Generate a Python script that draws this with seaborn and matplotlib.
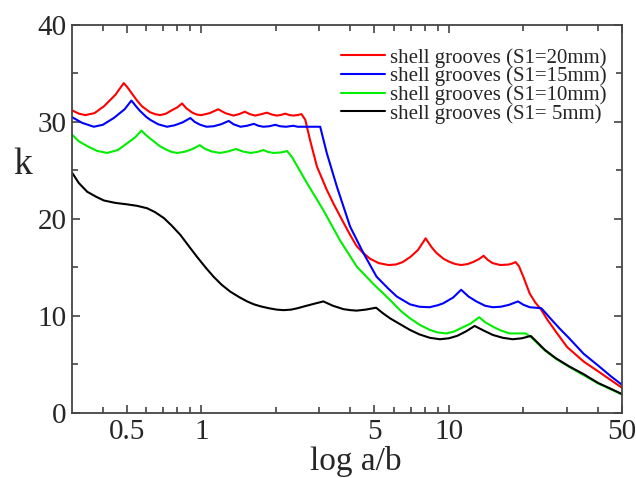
import numpy as np
import pandas as pd
import matplotlib
matplotlib.use("Agg")
import matplotlib.pyplot as plt
import matplotlib.ticker as mticker
import seaborn as sns

# values
labels = ["shell grooves (S1=20mm)", "shell grooves (S1=15mm)",
          "shell grooves (S1=10mm)", "shell grooves (S1= 5mm)"]
colors = ["#ff0000", "#0000ff", "#00ee00", "#000000"]

x_20 = [0.30, 0.32, 0.34, 0.37, 0.404, 0.45, 0.486, 0.505, 0.525, 0.55, 0.576, 0.62, 0.65,
        0.683, 0.72, 0.76, 0.80, 0.836, 0.87, 0.92, 0.96, 1.0, 1.08, 1.17, 1.25, 1.35,
        1.42, 1.5, 1.57, 1.65, 1.75, 1.84, 1.93, 2.02, 2.1, 2.18, 2.27, 2.36, 2.44, 2.54,
        2.63, 2.75, 2.93, 3.21, 3.43, 3.7, 4.0, 4.24, 4.5, 4.8, 5.2, 5.69, 6.1, 6.5, 7.0,
        7.5, 8.05, 8.5, 8.9, 9.5, 10.0, 10.6, 11.2, 11.9, 12.5, 13.2, 13.8, 14.4, 15.0,
        16.1, 17.4, 18.0, 18.6, 19.2, 20.0, 21.2, 22.3, 23.5, 25.0, 27.0, 30.0, 35.0,
        40.0, 45.0, 50.0]
k_20 = [31.2, 30.85, 30.7, 30.9, 31.6, 32.8, 34.0, 33.5, 32.9, 32.2, 31.6, 31.0, 30.8,
        30.7, 30.85, 31.2, 31.5, 31.9, 31.4, 30.95, 30.75, 30.7, 30.9, 31.3, 30.9, 30.65,
        30.8, 31.05, 30.8, 30.65, 30.8, 30.95, 30.75, 30.65, 30.72, 30.85, 30.7, 30.65, 30.7, 30.8,
        30.2, 28.1, 25.4, 23.0, 21.5, 19.9, 18.3, 17.2, 16.5, 15.9, 15.45, 15.25, 15.3, 15.55, 16.1,
        16.8, 18.0, 17.1, 16.5, 15.9, 15.6, 15.35, 15.25, 15.35, 15.55, 15.85, 16.2, 15.75, 15.45,
        15.25, 15.3, 15.4, 15.55, 15.1, 14.0, 12.3, 11.4, 10.7, 9.6, 8.4, 6.8, 5.3,
        4.3, 3.4, 2.6]

x_15 = [0.30, 0.33, 0.368, 0.40, 0.443, 0.49, 0.522, 0.545, 0.567, 0.60, 0.623, 0.67,
        0.727, 0.78, 0.84, 0.903, 0.94, 0.99, 1.05, 1.12, 1.2, 1.29, 1.35, 1.44, 1.53,
        1.63, 1.7, 1.78, 1.88, 1.99, 2.08, 2.2, 2.35, 2.45, 3.02, 3.21, 3.53, 3.99, 4.51,
        5.1, 5.7, 6.16, 6.96, 7.6, 8.35, 9.0, 9.48, 10.4, 11.2, 12.0, 12.9, 14.0, 15.05,
        16.2, 17.5, 19.0, 20.0, 21.2, 23.6, 26.0, 28.0, 30.6, 35.0, 40.0, 45.0, 50.0]
k_15 = [30.5, 29.9, 29.5, 29.7, 30.4, 31.3, 32.2, 31.6, 31.1, 30.5, 30.2, 29.75,
        29.5, 29.65, 29.95, 30.4, 30.0, 29.7, 29.5, 29.55, 29.75, 30.1, 29.75, 29.5, 29.6,
        29.8, 29.6, 29.5, 29.55, 29.7, 29.55, 29.5, 29.6, 29.5, 29.5, 26.8, 23.3, 19.2, 16.5,
        14.05, 12.8, 12.0, 11.2, 10.95, 10.9, 11.1, 11.3, 11.9, 12.7, 12.0, 11.5, 11.05, 10.9,
        10.95, 11.15, 11.5, 11.15, 10.9, 10.8, 9.6, 8.7, 7.7, 6.1, 4.9, 3.8, 2.9]

x_10 = [0.30, 0.32, 0.346, 0.38, 0.417, 0.46, 0.502, 0.54, 0.573, 0.60, 0.642, 0.68,
        0.72, 0.76, 0.798, 0.85, 0.92, 0.985, 1.03, 1.1, 1.19, 1.28, 1.38, 1.47, 1.58,
        1.68, 1.78, 1.86, 1.96, 2.1, 2.22, 2.32, 2.67, 3.11, 3.63, 4.24, 4.95, 5.78, 6.4,
        6.96, 7.6, 8.37, 9.0, 9.78, 10.5, 11.1, 12.2, 13.25, 14.0, 15.05, 16.2, 17.6, 19.0,
        20.4, 21.5, 24.4, 27.0, 30.6, 35.0, 40.0, 45.0, 50.0]
k_10 = [28.7, 28.0, 27.5, 27.0, 26.8, 27.1, 27.8, 28.4, 29.1, 28.6, 28.0, 27.5,
        27.15, 26.9, 26.8, 26.9, 27.2, 27.6, 27.25, 26.95, 26.8, 26.95, 27.2, 26.95, 26.8,
        26.9, 27.1, 26.9, 26.8, 26.85, 27.0, 26.4, 23.7, 20.9, 17.8, 15.1, 13.3, 11.65, 10.5,
        9.76, 9.1, 8.56, 8.3, 8.2, 8.4, 8.7, 9.2, 9.87, 9.35, 8.9, 8.5, 8.2, 8.2,
        8.2, 7.8, 6.45, 5.6, 4.75, 3.9, 3.05, 2.45, 1.9]

x_5 = [0.30, 0.32, 0.346, 0.375, 0.404, 0.45, 0.502, 0.55, 0.604, 0.65, 0.705, 0.76,
       0.823, 0.89, 0.96, 1.04, 1.12, 1.21, 1.31, 1.42, 1.53, 1.63, 1.73, 1.87, 2.02,
       2.15, 2.3, 2.45, 2.58, 2.8, 3.11, 3.4, 3.75, 4.0, 4.24, 4.6, 5.08, 5.4, 5.78,
       6.4, 6.96, 7.6, 8.37, 9.2, 10.0, 10.8, 11.7, 12.7, 13.8, 15.05, 16.5, 18.1, 19.7,
       21.4, 22.5, 24.4, 27.0, 30.6, 35.0, 40.0, 45.0, 50.0]
k_5 = [24.8, 23.7, 22.8, 22.3, 21.9, 21.65, 21.5, 21.35, 21.1, 20.7, 20.1, 19.3,
       18.35, 17.2, 16.1, 15.0, 14.05, 13.2, 12.5, 11.95, 11.5, 11.2, 11.0, 10.8, 10.65,
       10.6, 10.65, 10.8, 10.96, 11.2, 11.5, 11.05, 10.7, 10.6, 10.55, 10.65, 10.85, 10.3, 9.76,
       9.1, 8.56, 8.1, 7.75, 7.6, 7.7, 7.95, 8.4, 8.97, 8.5, 8.04, 7.75, 7.6, 7.7,
       7.94, 7.4, 6.5, 5.65, 4.8, 4.0, 3.1, 2.5, 1.95]

xs = [x_20, x_15, x_10, x_5]
ks = [k_20, k_15, k_10, k_5]
df = pd.concat([pd.DataFrame({"x": x, "k": k, "series": lab})
                for x, k, lab in zip(xs, ks, labels)], ignore_index=True)

sns.set_style("ticks")
plt.rcParams["font.family"] = ["Liberation Serif", "DejaVu Serif"]

fig = plt.figure(figsize=(6.36, 4.78), dpi=100)
ax = fig.add_axes([0.113, 0.136, 0.865, 0.812])

sns.lineplot(data=df, x="x", y="k", hue="series", hue_order=labels,
             palette=colors, sort=False, estimator=None, linewidth=1.5, ax=ax)

ax.set_xscale("log")
ax.set_xlim(0.3, 50)
ax.set_ylim(0, 40)
ax.xaxis.set_major_locator(mticker.FixedLocator([0.5, 1, 5, 10, 50]))
ax.xaxis.set_major_formatter(mticker.FixedFormatter(["0.5", "1", "5", "10", "50"]))
ax.xaxis.set_minor_locator(mticker.FixedLocator(
    [0.4, 0.6, 0.7, 0.8, 0.9, 2, 3, 4, 6, 7, 8, 9, 20, 30, 40]))
ax.xaxis.set_minor_formatter(mticker.NullFormatter())
ax.yaxis.set_major_locator(mticker.MultipleLocator(10))
ax.yaxis.set_minor_locator(mticker.MultipleLocator(5))

for s in ax.spines.values():
    s.set_color("#444444")
    s.set_linewidth(1.3)
ax.tick_params(which="both", direction="in", top=True, right=True,
               color="#444444", width=1.2, labelsize=21, pad=4)
ax.tick_params(which="major", length=6)
ax.tick_params(which="minor", length=4)

ax.set_xlabel("log a/b", fontsize=24, va="bottom")
ax.xaxis.set_label_coords(0.516, -0.165)
ax.set_ylabel("k", fontsize=27, rotation=0, va="center")
ax.yaxis.set_label_coords(-0.09, 0.64)

ax.legend(loc="upper right", frameon=False, fontsize=15, handlelength=2.1,
          handletextpad=0.25, labelspacing=-0.05, borderaxespad=0.0,
          bbox_to_anchor=(0.987, 0.962))

fig.savefig("out.png", dpi=100)
